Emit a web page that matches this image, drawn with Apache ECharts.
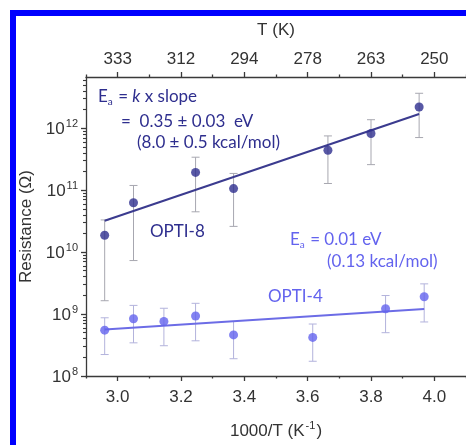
<!DOCTYPE html>
<html><head><meta charset="utf-8">
<script src="https://cdn.jsdelivr.net/npm/echarts@6/dist/echarts.min.js"></script>
<style>html,body{margin:0;padding:0;background:#fff}#chart{width:466px;height:445px}</style>
</head><body><div id="chart"></div>
<script>
// Inverse temperature 1000/T (K^-1) and resistance (ohm) with error limits
const opti8X  = [2.959, 3.05, 3.246, 3.366, 3.664, 3.80, 3.952];
const opti8R  = [1.87e10, 6.27e10, 1.93e11, 1.06e11, 4.4e11, 8.2e11, 2.2e12];
const opti8Hi = [3.3e10, 1.19e11, 3.4e11, 1.86e11, 7.5e11, 1.37e12, 3.66e12];
const opti8Lo = [1.64e9, 7.3e9, 4.47e10, 2.6e10, 1.28e11, 2.58e11, 7.06e11];
const opti8FitX = [2.959, 3.952];
const opti8FitR = [3.2e10, 1.69e12];

const opti4X  = [2.959, 3.05, 3.146, 3.246, 3.366, 3.616, 3.846, 3.968];
const opti4R  = [5.5e8, 8.4e8, 7.6e8, 9.3e8, 4.6e8, 4.2e8, 1.22e9, 1.9e9];
const opti4Hi = [8.7e8, 1.38e9, 1.24e9, 1.49e9, 7.6e8, 6.9e8, 1.99e9, 3.07e9];
const opti4Lo = [2.22e8, 3.43e8, 3.08e8, 3.7e8, 1.9e8, 1.73e8, 5.0e8, 7.45e8];
const opti4FitX = [2.959, 3.968];
const opti4FitR = [5.65e8, 1.21e9];

// Axis ticks
const invTTicks = [3.0, 3.2, 3.4, 3.6, 3.8, 4.0];
const invTTickLabels = ['3.0', '3.2', '3.4', '3.6', '3.8', '4.0'];
const tTickLabels = ['333', '312', '294', '278', '263', '250'];
const invTMinorTicks = [2.9, 3.1, 3.3, 3.5, 3.7, 3.9, 4.1];
const rDecades = [1e8, 1e9, 1e10, 1e11, 1e12];
const rDecadeExponents = ['8', '9', '10', '11', '12'];

const X_MIN = 2.9, X_MAX = 4.1;
const R_MIN = 1e8, R_MAX = 6.7e12;

// 2..9 x 10^n minor ticks on the resistance axis
const rMinorTicks = [];
rDecades.forEach(d => { for (let k = 2; k <= 9; k++) { if (k * d <= R_MAX) rMinorTicks.push(k * d); } });

const AXIS_FONT = 'Liberation Sans, Arial, sans-serif';
const NOTE_FONT = 'Lato, sans-serif';
const AXIS_COLOR = '#3a3a3a';
const C8 = '#2e2e8e', C8_LINE = '#3b3b8f', C8_ERR = '#a7a7b0';
const C4 = '#6363ee', C4_LINE = '#6c6ce6', C4_ERR = '#b3b3dc';

function zip(a, b) { return a.map((v, i) => [v, b[i]]); }

function errorBars(xs, lo, hi, color) {
  return {
    type: 'custom', xAxisIndex: 0, yAxisIndex: 0, z: 1, silent: true,
    data: xs.map((x, i) => [x, lo[i], hi[i]]),
    encode: { x: 0, y: [1, 2] },
    renderItem(params, api) {
      const top = api.coord([api.value(0), api.value(2)]);
      const bot = api.coord([api.value(0), api.value(1)]);
      const hw = 4;
      const st = { stroke: color, lineWidth: 1 };
      return { type: 'group', children: [
        { type: 'line', shape: { x1: top[0], y1: top[1], x2: bot[0], y2: bot[1] }, style: st },
        { type: 'line', shape: { x1: top[0] - hw, y1: top[1], x2: top[0] + hw, y2: top[1] }, style: st },
        { type: 'line', shape: { x1: bot[0] - hw, y1: bot[1], x2: bot[0] + hw, y2: bot[1] }, style: st }
      ]};
    }
  };
}

const labelStyle = { fontFamily: AXIS_FONT, fontSize: 17, color: '#333' };
const hidden = { show: false };

const chart = echarts.init(document.getElementById('chart'), null, { renderer: 'canvas' });
chart.setOption({
  backgroundColor: '#fff',
  animation: false,
  grid: { left: 86, right: -2, top: 77, bottom: 62, containLabel: false },
  xAxis: [
    { type: 'value', position: 'bottom', min: X_MIN, max: X_MAX,
      name: '{n|1000/T (K}{sup|-1}{n|)}', nameLocation: 'middle', nameGap: 44,
      nameTextStyle: { fontFamily: AXIS_FONT, fontSize: 17, color: '#333',
        rich: {
          n: { fontFamily: AXIS_FONT, fontSize: 17, color: '#333', lineHeight: 20, verticalAlign: 'bottom' },
          sup: { fontFamily: AXIS_FONT, fontSize: 11, color: '#333', lineHeight: 20, verticalAlign: 'top', padding: [0, 1, 8, 1] } } },
      axisLine: { lineStyle: { color: AXIS_COLOR, width: 1.3 } },
      axisTick: { customValues: invTTicks, length: 5, lineStyle: { color: AXIS_COLOR, width: 1.3 } },
      axisLabel: Object.assign({ customValues: invTTicks, margin: 13,
        formatter: v => invTTickLabels[invTTicks.findIndex(t => Math.abs(t - v) < 1e-6)] || '' }, labelStyle),
      splitLine: hidden },
    { type: 'value', position: 'top', min: X_MIN, max: X_MAX,
      name: 'T (K)', nameLocation: 'middle', nameGap: 38,
      nameTextStyle: { fontFamily: AXIS_FONT, fontSize: 17, color: '#333' },
      axisLine: { lineStyle: { color: AXIS_COLOR, width: 1.3 } },
      axisTick: { customValues: invTTicks, length: 5, lineStyle: { color: AXIS_COLOR, width: 1.3 } },
      axisLabel: Object.assign({ customValues: invTTicks, margin: 9,
        formatter: v => tTickLabels[invTTicks.findIndex(t => Math.abs(t - v) < 1e-6)] || '' }, labelStyle),
      splitLine: hidden },
    { type: 'value', position: 'bottom', min: X_MIN, max: X_MAX,
      axisLine: hidden, axisLabel: hidden, splitLine: hidden,
      axisTick: { customValues: invTMinorTicks, length: 2.5, lineStyle: { color: AXIS_COLOR, width: 1.3 } } },
    { type: 'value', position: 'top', min: X_MIN, max: X_MAX,
      axisLine: hidden, axisLabel: hidden, splitLine: hidden,
      axisTick: { customValues: invTMinorTicks, length: 2.5, lineStyle: { color: AXIS_COLOR, width: 1.3 } } }
  ],
  yAxis: [
    { type: 'log', position: 'left', min: R_MIN, max: R_MAX,
      name: 'Resistance (Ω)', nameLocation: 'middle', nameGap: 43, nameRotate: 90,
      nameTextStyle: { fontFamily: AXIS_FONT, fontSize: 17, color: '#333' },
      axisLine: { lineStyle: { color: AXIS_COLOR, width: 1.3 } },
      axisTick: { customValues: rDecades, length: 5, lineStyle: { color: AXIS_COLOR, width: 1.3 } },
      axisLabel: { customValues: rDecades, margin: 8,
        formatter: v => {
          const i = rDecades.findIndex(d => Math.abs(Math.log10(d) - Math.log10(v)) < 1e-6);
          return i < 0 ? '' : '{b|10}{s|' + rDecadeExponents[i] + '}';
        },
        rich: {
          b: { fontFamily: AXIS_FONT, fontSize: 17, color: '#333', lineHeight: 20, verticalAlign: 'bottom' },
          s: { fontFamily: AXIS_FONT, fontSize: 11, color: '#333', lineHeight: 20, verticalAlign: 'top', padding: [0, 0, 8, 1] }
        } },
      splitLine: hidden },
    { type: 'log', position: 'left', min: R_MIN, max: R_MAX,
      axisLine: hidden, axisLabel: hidden, splitLine: hidden,
      axisTick: { customValues: rMinorTicks, length: 3, lineStyle: { color: AXIS_COLOR, width: 1.1 } } }
  ],
  series: [
    errorBars(opti8X, opti8Lo, opti8Hi, C8_ERR),
    errorBars(opti4X, opti4Lo, opti4Hi, C4_ERR),
    { name: 'OPTI-8 fit', type: 'line', data: zip(opti8FitX, opti8FitR), showSymbol: false, symbol: 'none',
      lineStyle: { color: C8_LINE, width: 2 }, z: 2, silent: true },
    { name: 'OPTI-4 fit', type: 'line', data: zip(opti4FitX, opti4FitR), showSymbol: false, symbol: 'none',
      lineStyle: { color: C4_LINE, width: 2 }, z: 2, silent: true },
    { name: 'OPTI-8', type: 'scatter', data: zip(opti8X, opti8R), symbol: 'circle', symbolSize: 9,
      itemStyle: { color: C8 }, z: 3 },
    { name: 'OPTI-4', type: 'scatter', data: zip(opti4X, opti4R), symbol: 'circle', symbolSize: 9,
      itemStyle: { color: C4 }, z: 3 }
  ],
  graphic: [
    { type: 'rect', silent: true, shape: { x: 13, y: 13, width: 480, height: 460 },
      style: { fill: null, stroke: '#0000ff', lineWidth: 6 } },
    { type: 'text', x: 98, y: 97, silent: true, style: {
      text: '{n|E}{sub|a}{n| = }{it|k}{n| x slope}', verticalAlign: 'middle',
      rich: {
        n: { fontFamily: NOTE_FONT, fontSize: 17, fill: C8, lineHeight: 20 },
        it: { fontFamily: NOTE_FONT, fontSize: 17, fontStyle: 'italic', fill: C8, lineHeight: 20 },
        sub: { fontFamily: NOTE_FONT, fontSize: 10, fill: C8, lineHeight: 20, verticalAlign: 'bottom', padding: [8, 1, 0, 0] }
      } } },
    { type: 'text', x: 121, y: 122, silent: true, style: {
      text: '=  0.35 ± 0.03  eV', verticalAlign: 'middle', fontFamily: NOTE_FONT, fontSize: 17, fill: C8 } },
    { type: 'text', x: 137, y: 143, silent: true, style: {
      text: '(8.0 ± 0.5 kcal/mol)', verticalAlign: 'middle', fontFamily: NOTE_FONT, fontSize: 17, fill: C8 } },
    { type: 'text', x: 150, y: 232, silent: true, style: {
      text: 'OPTI-8', verticalAlign: 'middle', fontFamily: NOTE_FONT, fontSize: 17, fill: C8 } },
    { type: 'text', x: 290, y: 240, silent: true, style: {
      text: '{n|E}{sub|a}{n| = 0.01 eV}', verticalAlign: 'middle',
      rich: {
        n: { fontFamily: NOTE_FONT, fontSize: 17, fill: C4, lineHeight: 20 },
        sub: { fontFamily: NOTE_FONT, fontSize: 10, fill: C4, lineHeight: 20, verticalAlign: 'bottom', padding: [8, 1, 0, 0] }
      } } },
    { type: 'text', x: 327, y: 262, silent: true, style: {
      text: '(0.13 kcal/mol)', verticalAlign: 'middle', fontFamily: NOTE_FONT, fontSize: 17, fill: C4 } },
    { type: 'text', x: 268, y: 297, silent: true, style: {
      text: 'OPTI-4', verticalAlign: 'middle', fontFamily: NOTE_FONT, fontSize: 17, fill: C4 } }
  ]
});
</script></body></html>
